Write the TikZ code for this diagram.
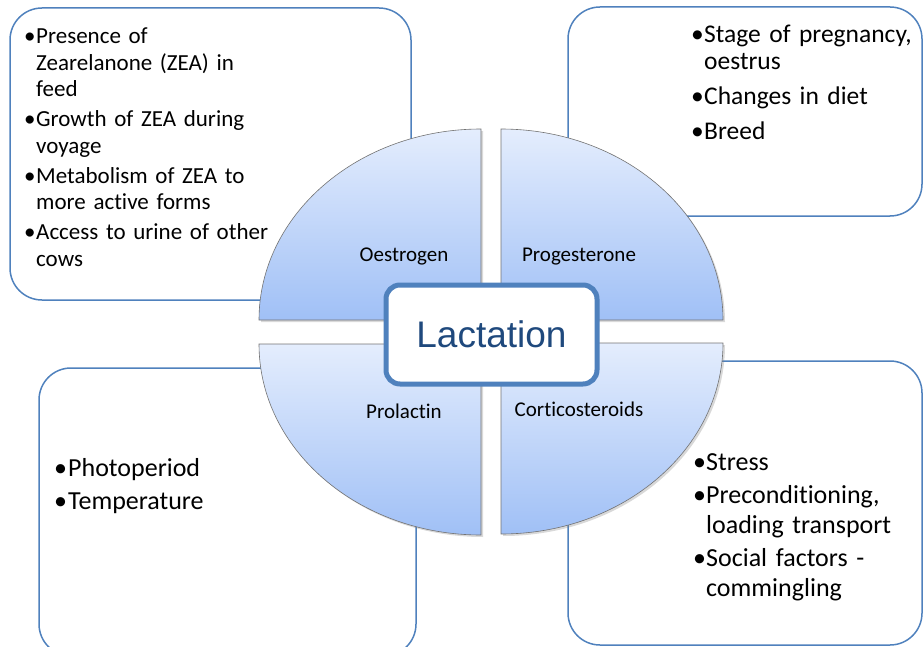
\documentclass[tikz,border=0pt]{standalone}
\usepackage{fontspec}
\setmainfont{Carlito}[Ligatures=NoCommon]
\newfontfamily\lactfont{Liberation Sans}
\usetikzlibrary{positioning,shadows}
\definecolor{boxblue}{RGB}{79,129,189}
\definecolor{lacttext}{RGB}{31,73,125}
\definecolor{quadtop}{RGB}{228,237,253}
\definecolor{quadbot}{RGB}{160,192,246}
\newlength\bulwd
\newlength\bulgap
\newcommand{\bulitem}[1]{\par\noindent\hangindent=\bulwd\hangafter=1\makebox[\bulwd][l]{\textbullet}#1\par\vspace{\bulgap}}
\tikzset{
	mybox/.style={draw=boxblue,line width=1.5pt,rounded corners=32pt,fill=white,inner sep=0pt},
	myquad/.style={draw=black!55,line width=0.6pt,top color=quadtop,bottom color=quadbot,
		drop shadow={opacity=0.3,shadow xshift=2pt,shadow yshift=-2pt}},
	mylabel/.style={anchor=base,inner sep=0pt,font=\fontsize{21}{25}\selectfont},
	mytext/.style={anchor=north west,inner sep=0pt,text width=#1,align=left},
	mycentre/.style={draw=boxblue,line width=5pt,rounded corners=14pt,fill=white,inner sep=0pt,
		text=lacttext,font=\lactfont\fontsize{37}{40}\selectfont}
}
\begin{document}
\begin{tikzpicture}[x=1pt,y=-1pt]
	\useasboundingbox (0,0) rectangle (923,647);
	\node[mybox,minimum width=401pt,minimum height=292pt](feedbox) at (210.5,154){};
	\node[mybox,minimum width=354pt,minimum height=209pt](cyclebox) at (745,111.5){};
	\node[mybox,minimum width=377pt,minimum height=288pt](seasonbox) at (227.5,512){};
	\node[mybox,minimum width=354pt,minimum height=284pt](stressbox) at (745,503){};
	\node[mytext=300pt,font=\fontsize{23}{26.5}\selectfont](feedtext) at (24,17){\setlength\bulwd{12pt}\setlength\bulgap{3.5pt}%
		\bulitem{Presence of\newline Zearelanone (ZEA) in\newline feed}%
		\bulitem{Growth of ZEA during\newline voyage}%
		\bulitem{Metabolism of ZEA to\newline more active forms}%
		\bulitem{Access to urine of other\newline cows}};
	\node[mytext=230pt,font=\fontsize{25.5}{27}\selectfont](cycletext) at (691,15){\setlength\bulwd{13pt}\setlength\bulgap{8pt}%
		\bulitem{Stage of pregnancy,\newline oestrus}%
		\bulitem{Changes in diet}%
		\bulitem{Breed}};
	\node[mytext=250pt,font=\fontsize{26}{30}\selectfont](seasontext) at (54,446){\setlength\bulwd{14pt}\setlength\bulgap{3pt}%
		\bulitem{Photoperiod}%
		\bulitem{Temperature}};
	\node[mytext=230pt,font=\fontsize{26}{30}\selectfont](stresstext) at (693,440){\setlength\bulwd{13pt}\setlength\bulgap{3pt}%
		\bulitem{Stress}%
		\bulitem{Preconditioning,\newline loading transport}%
		\bulitem{Social factors -\newline commingling}};
	\draw[myquad] (481,320) -- (259,320) arc[start angle=180,end angle=270,x radius=222,y radius=191] -- cycle;
	\draw[myquad] (501,320) -- (501,129) arc[start angle=270,end angle=360,x radius=222,y radius=191] -- cycle;
	\draw[myquad] (481,344) -- (259,344) arc[start angle=180,end angle=90,x radius=222,y radius=191] -- cycle;
	\draw[myquad] (501,343) -- (723,343) arc[start angle=0,end angle=90,x radius=222,y radius=191] -- cycle;
	\node[mylabel](oestrogen) at (404,261){Oestrogen};
	\node[mylabel](progesterone) at (579,261){Progesterone};
	\node[mylabel](prolactin) at (404,418){Prolactin};
	\node[mylabel](cortico) at (579,416){Corticosteroids};
	\node[mycentre,minimum width=211pt,minimum height=99pt](lactation) at (491.5,334.5){Lactation};
\end{tikzpicture}
\end{document}
